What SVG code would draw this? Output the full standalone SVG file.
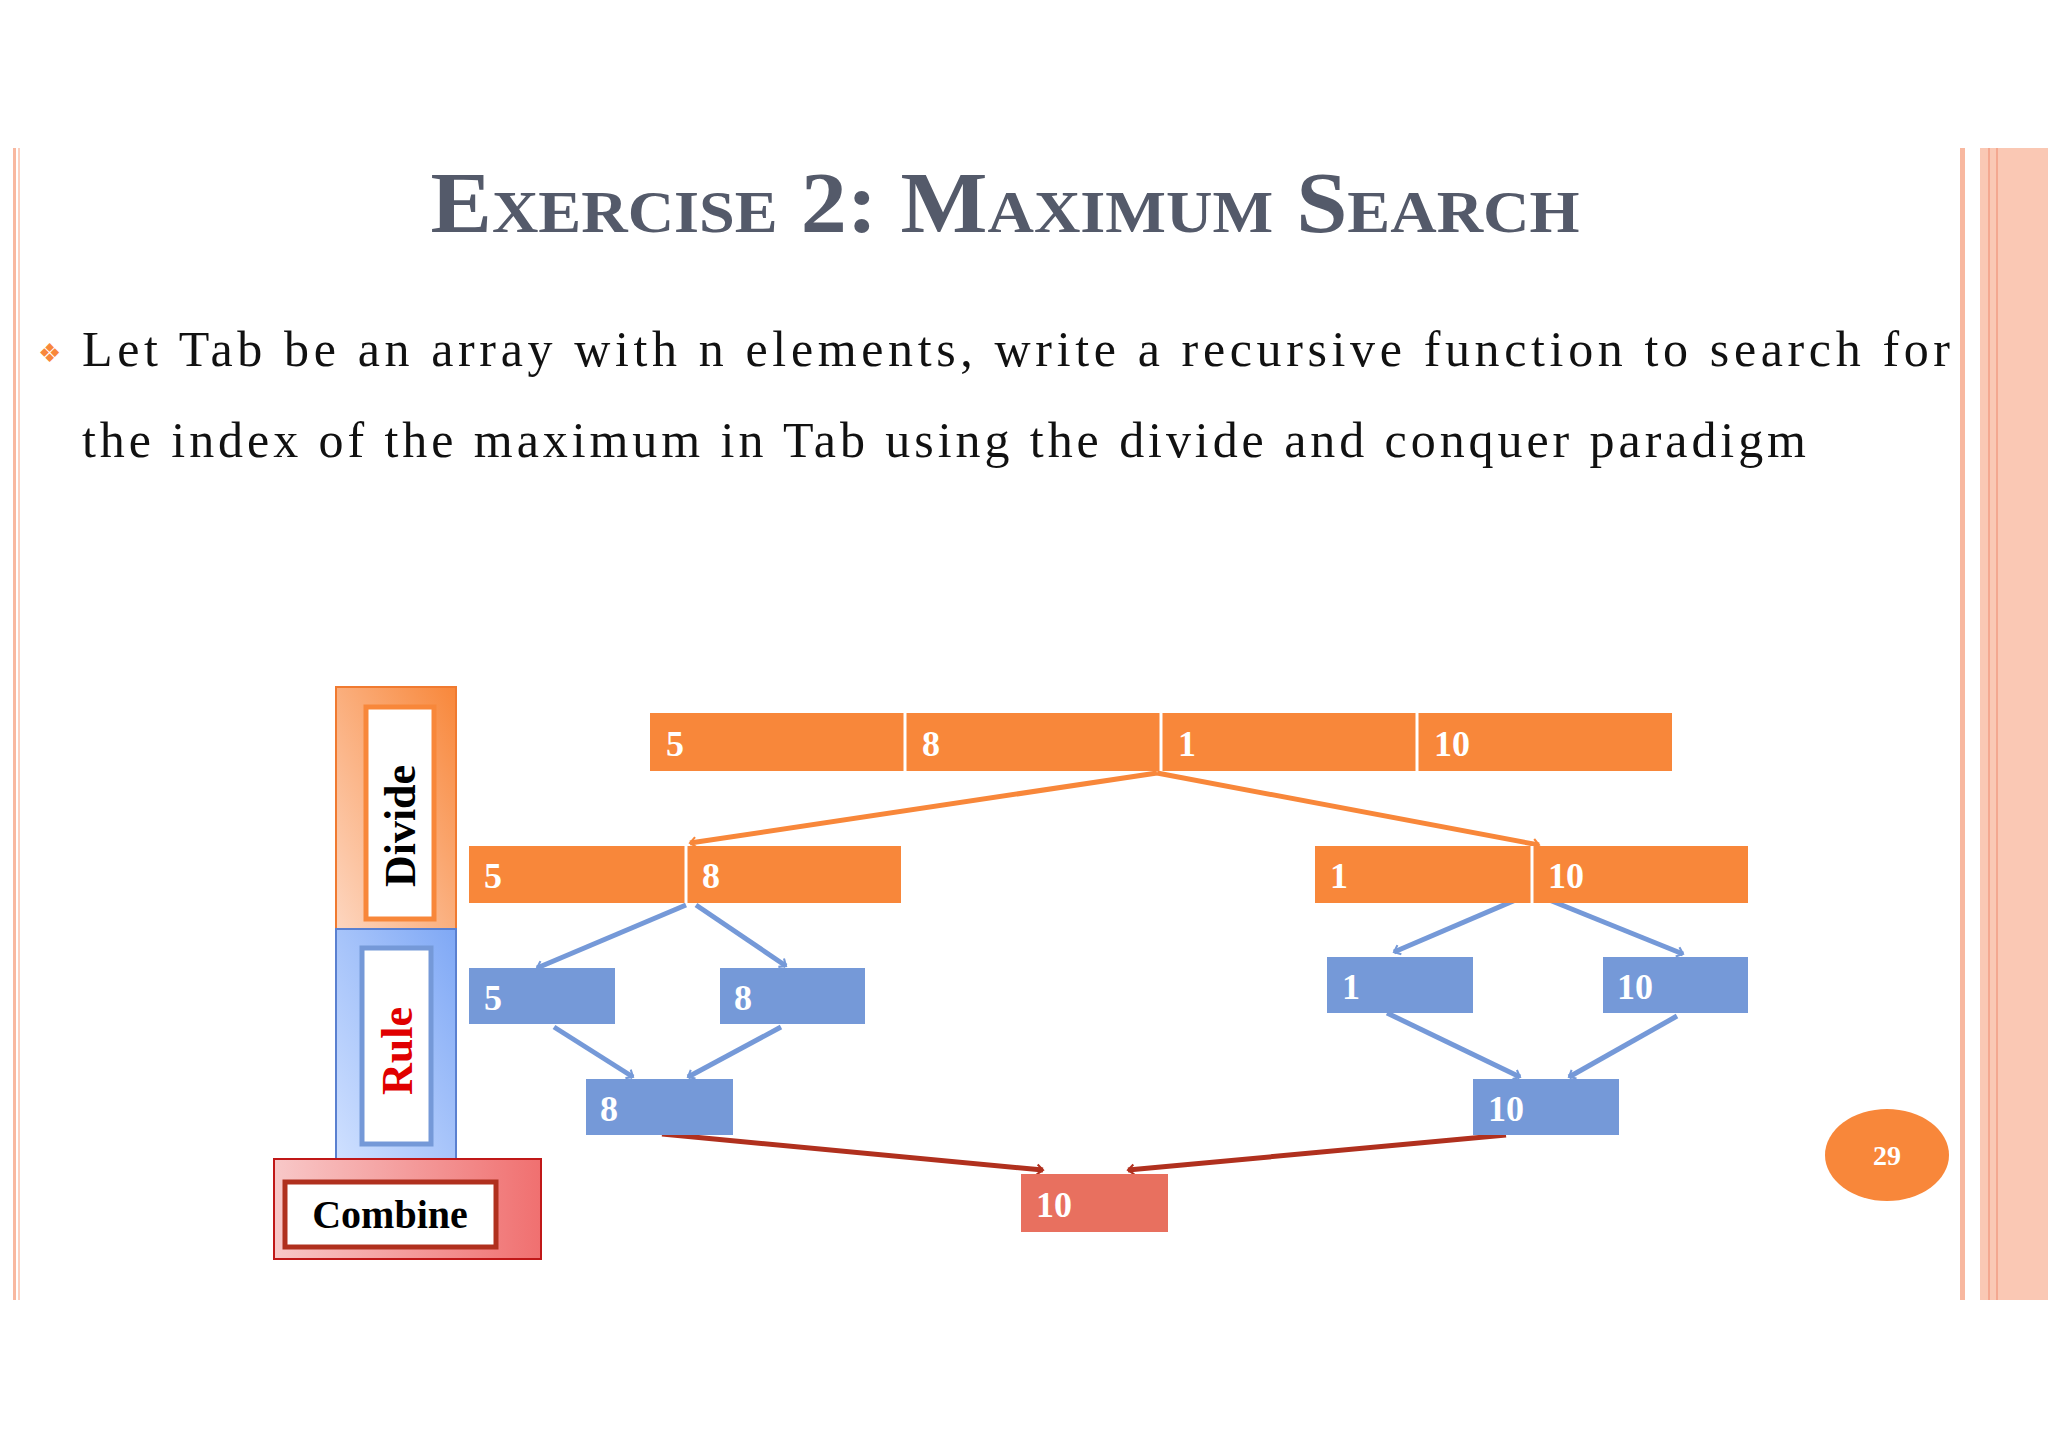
<svg xmlns="http://www.w3.org/2000/svg" width="2048" height="1447" viewBox="0 0 2048 1447">
<defs>
<style>
.lbl{font-family:"Liberation Serif",serif;font-weight:bold;font-size:36px;fill:#fff}
.or{fill:#F8873A}
.bl{fill:#7599D8}
.ao{stroke:#F8873A;stroke-width:5;fill:none;marker-end:url(#mo)}
.ab{stroke:#7599D8;stroke-width:5;fill:none;marker-end:url(#mb)}
.ar{stroke:#B0301E;stroke-width:5;fill:none;marker-end:url(#mr)}
.body{font-family:"Liberation Serif",serif;font-size:50px;fill:#111}
</style>
<marker id="mo" viewBox="0 0 12 12" refX="10" refY="6" markerWidth="5" markerHeight="5" orient="auto" markerUnits="userSpaceOnUse" style="overflow:visible"><path d="M-4,-6 L10,6 L-4,18" transform="scale(1)" fill="none" stroke="#F8873A" stroke-width="5"/></marker>
<marker id="mb" viewBox="0 0 12 12" refX="10" refY="6" markerWidth="5" markerHeight="5" orient="auto" markerUnits="userSpaceOnUse" style="overflow:visible"><path d="M-4,-6 L10,6 L-4,18" fill="none" stroke="#7599D8" stroke-width="5"/></marker>
<marker id="mr" viewBox="0 0 12 12" refX="10" refY="6" markerWidth="5" markerHeight="5" orient="auto" markerUnits="userSpaceOnUse" style="overflow:visible"><path d="M-4,-6 L10,6 L-4,18" fill="none" stroke="#B0301E" stroke-width="5"/></marker>
<linearGradient id="gd" x1="0" y1="1" x2="1" y2="0"><stop offset="0" stop-color="#FDD6C0"/><stop offset="1" stop-color="#F8873A"/></linearGradient>
<linearGradient id="gr" x1="0" y1="1" x2="1" y2="0"><stop offset="0" stop-color="#CFE0FF"/><stop offset="1" stop-color="#7FA8F5"/></linearGradient>
<linearGradient id="gc" x1="0" y1="0" x2="1" y2="0"><stop offset="0" stop-color="#F8C8C8"/><stop offset="1" stop-color="#F07070"/></linearGradient>
</defs>
<rect width="2048" height="1447" fill="#fff"/>
<g id="frame">
<rect x="13" y="148" width="3" height="1152" fill="#F8B8A0"/>
<rect x="18" y="148" width="2" height="1152" fill="#FBD0C0"/>
<rect x="1960" y="148" width="5" height="1152" fill="#F8B8A0"/>
<rect x="1980" y="148" width="68" height="1152" fill="#FAC8B4"/>
<rect x="1988" y="148" width="2" height="1152" fill="#F4A890"/>
<rect x="1996" y="148" width="2" height="1152" fill="#F4A890"/>
</g>
<g id="title"><text x="1005" y="232" text-anchor="middle" font-family="Liberation Serif,serif" font-weight="bold" font-size="86" font-variant="small-caps" fill="#545A6A" textLength="1149" lengthAdjust="spacingAndGlyphs">Exercise 2: Maximum Search</text></g>
<g id="bodytext">
<text x="38" y="362" font-family="DejaVu Sans,sans-serif" font-size="26" fill="#F8873A">❖</text>
<text class="body" x="82" y="366" textLength="1868" lengthAdjust="spacing">Let Tab be an array with n elements, write a recursive function to search for</text>
<text class="body" x="82" y="457" textLength="1724" lengthAdjust="spacing">the index of the maximum in Tab using the divide and conquer paradigm</text>
</g>
<g id="legend-divide">
<rect x="336" y="687" width="120" height="242" fill="url(#gd)" stroke="#F07A30" stroke-width="2"/>
<rect x="366" y="707" width="68" height="212" fill="#fff" stroke="#F8873A" stroke-width="5"/>
<text transform="translate(415,826) rotate(-90)" text-anchor="middle" font-family="Liberation Serif,serif" font-weight="bold" font-size="44" fill="#000">Divide</text>
</g>
<g id="legend-rule">
<rect x="336" y="929" width="120" height="230" fill="url(#gr)" stroke="#5A80D0" stroke-width="2"/>
<rect x="362" y="948" width="69" height="196" fill="#fff" stroke="#7599D8" stroke-width="5"/>
<text transform="translate(412,1051) rotate(-90)" text-anchor="middle" font-family="Liberation Serif,serif" font-weight="bold" font-size="44" fill="#E00000">Rule</text>
</g>
<g id="legend-combine">
<rect x="274" y="1159" width="267" height="100" fill="url(#gc)" stroke="#C01818" stroke-width="2"/>
<rect x="285" y="1182" width="211" height="65" fill="#fff" stroke="#B0301E" stroke-width="5"/>
<text x="390" y="1228" text-anchor="middle" font-family="Liberation Serif,serif" font-weight="bold" font-size="40" fill="#000">Combine</text>
</g>
<g id="connectors">
<line class="ao" x1="1157" y1="773" x2="690" y2="843"/>
<line class="ao" x1="1157" y1="773" x2="1539" y2="845"/>
<line class="ab" x1="686" y1="905" x2="537" y2="968"/>
<line class="ab" x1="696" y1="905" x2="786" y2="966"/>
<line class="ab" x1="1532" y1="893" x2="1394" y2="952"/>
<line class="ab" x1="1532" y1="893" x2="1683" y2="954"/>
<line class="ab" x1="554" y1="1027" x2="633" y2="1077"/>
<line class="ab" x1="781" y1="1027" x2="688" y2="1077"/>
<line class="ab" x1="1387" y1="1013" x2="1520" y2="1077"/>
<line class="ab" x1="1677" y1="1016" x2="1569" y2="1077"/>
<line class="ar" x1="662" y1="1134" x2="1043" y2="1170"/>
<line class="ar" x1="1506" y1="1135" x2="1128" y2="1170"/>
</g>
<g id="array-top">
<rect class="or" x="650" y="713" width="1022" height="58"/>
<g stroke="#fff" stroke-width="3"><line x1="905" y1="713" x2="905" y2="771"/><line x1="1161" y1="713" x2="1161" y2="771"/><line x1="1417" y1="713" x2="1417" y2="771"/></g>
<text class="lbl" x="666" y="756">5</text><text class="lbl" x="922" y="756">8</text><text class="lbl" x="1178" y="756">1</text><text class="lbl" x="1434" y="756">10</text>
</g>
<g id="array-left">
<rect class="or" x="469" y="846" width="432" height="57"/>
<line x1="686" y1="846" x2="686" y2="903" stroke="#fff" stroke-width="3"/>
<text class="lbl" x="484" y="888">5</text><text class="lbl" x="702" y="888">8</text>
</g>
<g id="array-right">
<rect class="or" x="1315" y="846" width="433" height="57"/>
<line x1="1532" y1="846" x2="1532" y2="903" stroke="#fff" stroke-width="3"/>
<text class="lbl" x="1330" y="888">1</text><text class="lbl" x="1548" y="888">10</text>
</g>
<g id="b5"><rect class="bl" x="469" y="968" width="146" height="56"/><text class="lbl" x="484" y="1010">5</text></g>
<g id="b8"><rect class="bl" x="720" y="968" width="145" height="56"/><text class="lbl" x="734" y="1010">8</text></g>
<g id="b1"><rect class="bl" x="1327" y="957" width="146" height="56"/><text class="lbl" x="1342" y="999">1</text></g>
<g id="b10"><rect class="bl" x="1603" y="957" width="145" height="56"/><text class="lbl" x="1617" y="999">10</text></g>
<g id="m8"><rect class="bl" x="586" y="1079" width="147" height="56"/><text class="lbl" x="600" y="1121">8</text></g>
<g id="m10"><rect class="bl" x="1473" y="1079" width="146" height="56"/><text class="lbl" x="1488" y="1121">10</text></g>
<g id="result"><rect x="1021" y="1174" width="147" height="58" fill="#E8705F"/><text class="lbl" x="1036" y="1217">10</text></g>
<g id="page"><ellipse cx="1887" cy="1155" rx="62" ry="46" fill="#F8873A"/><text x="1887" y="1165" text-anchor="middle" font-family="Liberation Serif,serif" font-weight="bold" font-size="28" fill="#fff">29</text></g>
</svg>
